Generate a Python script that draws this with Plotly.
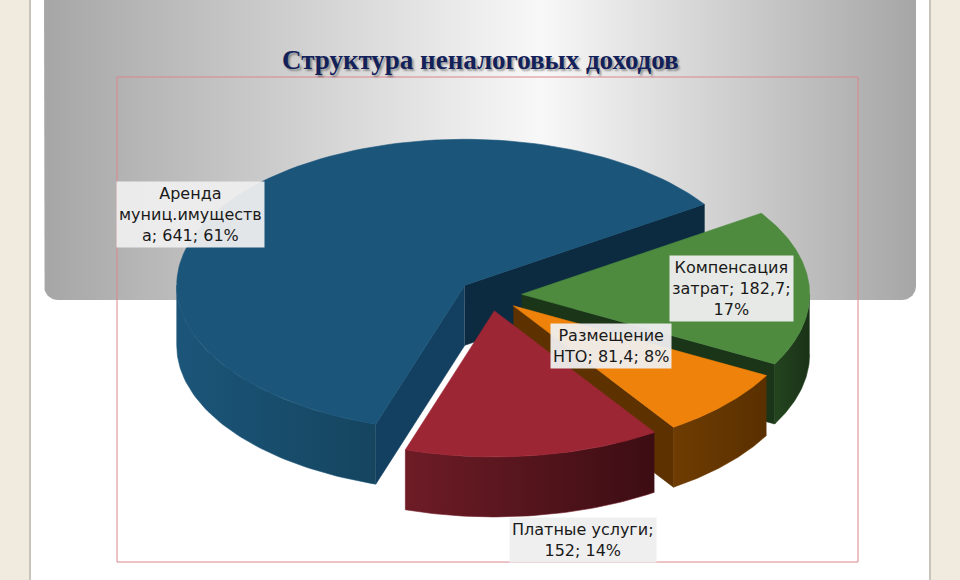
import numpy as np
import plotly.graph_objects as go

CATEGORIES = [
    "Аренда муниц.имущества",
    "Компенсация затрат",
    "Размещение НТО",
    "Платные услуги",
]
VALUES = [641, 182.7, 81.4, 152]
TITLE = "Структура неналоговых доходов"

TOP_COLORS = ["#1b557a", "#4e8b3f", "#ee820a", "#9d2634"]
SIDE_COLORS = [
    ("#1b5579", "#15455f"),
    ("#24441f", "#1a3217"),
    ("#6e3c02", "#5a3000"),
    ("#6e1c26", "#3c0d13"),
]
CUT_COLORS = [
    ("#134060", "#0c2a40"),
    ("#1e3a1a", "#1b3518"),
    ("#6a3800", "#5e3200"),
    ("#5a1520", "#4a1018"),
]
LABEL_WRAP = [14, 14, 14, 16]
LABEL_POS = [(190, 214), (731, 288), (611, 346), (583, 540)]

# pie geometry in page pixels (axes are mapped 1:1 to the page)
CX, CY = 490, 295
RX, RY = 288, 146
DEPTH = 60
EXPLODE = 0.11
START = 198  # degrees, clockwise from 12 o'clock


def wrap(text, width):
    lines, line = [], ""
    for word in text.split(" "):
        cand = word if not line else line + " " + word
        if len(cand) <= width:
            line = cand
            continue
        if line:
            lines.append(line)
        while len(word) > width:
            lines.append(word[:width])
            word = word[width:]
        line = word
    lines.append(line)
    return "<br>".join(lines)


def rim(ax, ay, phis, dy=0):
    r = np.radians(phis)
    return ax + RX * np.sin(r), ay - RY * np.cos(r) + dy


def face(x, y, color, gradient=None):
    kw = dict(fillcolor=color)
    if gradient:
        kw = dict(fillgradient=dict(type="horizontal",
                                    colorscale=[[0, gradient[0]], [1, gradient[1]]]))
    return go.Scatter(
        x=list(x), y=list(y), mode="lines", fill="toself",
        line=dict(width=0.6, color=color), hoverinfo="skip",
        showlegend=False, **kw,
    )


fig = go.Figure()

# grey gradient panel behind the title
px, py = [], []
rad = 14
px += [44, 44]
py += [-20, 300 - rad]
t = np.linspace(180, 90, 12)
px += list(44 + rad + rad * np.cos(np.radians(t)))
py += list(300 - rad + rad * np.sin(np.radians(t)))
t = np.linspace(90, 0, 12)
px += list(916 - rad + rad * np.cos(np.radians(t)))
py += list(300 - rad + rad * np.sin(np.radians(t)))
px += [916, 916, 44]
py += [300 - rad, -20, -20]
fig.add_trace(go.Scatter(
    x=px, y=py, mode="lines", fill="toself", line=dict(width=0),
    fillgradient=dict(type="horizontal", colorscale=[
        [0, "#a6a6a6"], [0.57, "#f8f8f8"], [1, "#a6a6a6"]]),
    hoverinfo="skip", showlegend=False,
))

total = sum(VALUES)
bounds = np.concatenate([[0], np.cumsum(VALUES)]) / total * 360 + START

for i, v in enumerate(VALUES):
    p1, p2 = bounds[i], bounds[i + 1]
    mid = np.radians((p1 + p2) / 2)
    ax = CX + EXPLODE * RX * np.sin(mid)
    ay = CY - EXPLODE * RY * np.cos(mid)

    # cut faces along the radii
    if np.sin(np.radians(p1)) < 0:
        rx, ry = rim(ax, ay, [p1])
        fig.add_trace(face([ax, rx[0], rx[0], ax], [ay, ry[0], ry[0] + DEPTH, ay + DEPTH],
                           CUT_COLORS[i][0]))
    if np.sin(np.radians(p2)) > 0:
        rx, ry = rim(ax, ay, [p2])
        fig.add_trace(face([ax, rx[0], rx[0], ax], [ay, ry[0], ry[0] + DEPTH, ay + DEPTH],
                           CUT_COLORS[i][1]))

    # outer wall, front half only
    for k in (0, 360):
        lo, hi = max(p1, 90 + k), min(p2, 270 + k)
        if hi > lo:
            phis = np.linspace(lo, hi, 60)
            tx, ty = rim(ax, ay, phis)
            bx, by = rim(ax, ay, phis[::-1], DEPTH)
            fig.add_trace(face(np.concatenate([tx, bx]), np.concatenate([ty, by]),
                               SIDE_COLORS[i][0], SIDE_COLORS[i]))

    # top
    phis = np.linspace(p1, p2, 120)
    tx, ty = rim(ax, ay, phis)
    fig.add_trace(face(np.concatenate([[ax], tx, [ax]]), np.concatenate([[ay], ty, [ay]]),
                       TOP_COLORS[i]))

    pct = round(v / total * 100)
    text = f"{CATEGORIES[i]}; " + f"{v:g}".replace(".", ",") + f"; {pct}%"
    fig.add_annotation(
        x=LABEL_POS[i][0], y=LABEL_POS[i][1], text=wrap(text, LABEL_WRAP[i]),
        showarrow=False, xanchor="center", yanchor="middle",
        font=dict(family="DejaVu Sans", size=16, color="#1a1a1a"),
        bgcolor="rgba(238,238,238,0.95)", borderpad=2,
    )

fig.add_annotation(
    x=480, y=60, text=f"<b>{TITLE}</b>", showarrow=False,
    font=dict(family="Liberation Serif", size=27, color="#13215a",
              shadow="2px 2px 2px rgba(0,0,0,0.35)"),
)

fig.update_layout(
    width=960, height=580,
    margin=dict(l=0, r=0, t=0, b=0),
    paper_bgcolor="#f1ebdf",
    plot_bgcolor="rgba(0,0,0,0)",
    xaxis=dict(range=[0, 960], visible=False, fixedrange=True),
    yaxis=dict(range=[580, 0], visible=False, fixedrange=True),
    shapes=[
        dict(type="rect", xref="x", yref="y", x0=31, x1=929, y0=-10, y1=590,
             fillcolor="white", line=dict(width=0), layer="below"),
        dict(type="line", xref="x", yref="y", x0=30, x1=30, y0=-10, y1=590,
             line=dict(color="#c9c4ba", width=2), layer="below"),
        dict(type="line", xref="x", yref="y", x0=930, x1=930, y0=-10, y1=590,
             line=dict(color="#c9c4ba", width=2), layer="below"),
        dict(type="rect", xref="x", yref="y", x0=117, x1=858, y0=77, y1=562,
             line=dict(color="#d9868c", width=1), layer="above"),
    ],
)

fig.write_html("out.html", config={"displayModeBar": False},
               post_script="document.body.style.margin='0px';")
